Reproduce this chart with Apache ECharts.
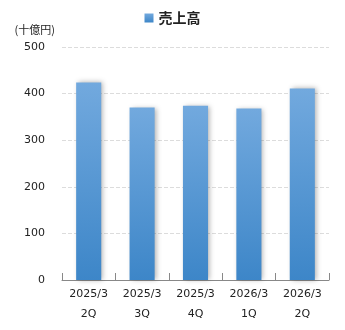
<!DOCTYPE html>
<html><head><meta charset="utf-8">
<script src="https://cdn.jsdelivr.net/npm/echarts@6/dist/echarts.min.js"></script>
<style>html,body{margin:0;padding:0;background:#fff}#c{width:345px;height:330px}</style>
</head><body><div id="c"></div>
<script>
const categories = ['2025/3\n2Q','2025/3\n3Q','2025/3\n4Q','2026/3\n1Q','2026/3\n2Q'];
const sales = [424, 370, 374, 368, 411];
const seriesName = '売上高';
const unitLabel = '(十億円)';
const font = 'DejaVu Sans, Verdana, sans-serif';
const chart = echarts.init(document.getElementById('c'));
chart.setOption({
  animation: false,
  legend: {
    top: 6, left: 'center',
    itemWidth: 9, itemHeight: 9, icon: 'rect',
    textStyle: {fontSize: 14, fontWeight: 'bold', color: '#222', fontFamily: 'Noto Sans CJK JP'},
    data: [seriesName]
  },
  grid: {left: 62, right: 16, top: 47, bottom: 50},
  xAxis: {
    type: 'category', data: categories,
    axisLine: {lineStyle: {color: '#888'}},
    axisTick: {show: true, inside: true, length: 7, lineStyle: {color: '#888'}},
    axisLabel: {color: '#222', fontSize: 11, fontFamily: font, lineHeight: 20, margin: 4}
  },
  yAxis: {
    type: 'value', min: 0, max: 500, interval: 100,
    name: unitLabel, nameLocation: 'end', nameGap: 12,
    nameTextStyle: {color: '#222', fontSize: 11, fontFamily: 'Noto Sans CJK JP', align: 'right', padding: [0, 7, 0, 0]},
    axisLine: {show: false}, axisTick: {show: false},
    axisLabel: {color: '#222', fontSize: 11, fontFamily: font, margin: 17},
    splitLine: {lineStyle: {color: '#dcdcdc', type: 'dashed'}}
  },
  series: [{
    name: seriesName, type: 'bar', data: sales, barWidth: '47%',
    itemStyle: {
      color: new echarts.graphic.LinearGradient(0, 0, 0, 1, [
        {offset: 0, color: '#72a9de'}, {offset: 1, color: '#3d86c8'}
      ]),
      shadowColor: 'rgba(0,0,0,0.3)', shadowBlur: 5, shadowOffsetX: 2
    }
  }]
});
</script></body></html>
